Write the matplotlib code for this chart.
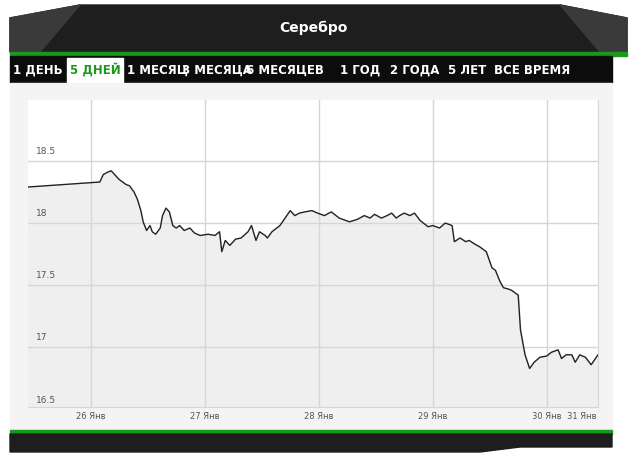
import matplotlib.pyplot as plt
from matplotlib.patches import Rectangle, Polygon

# days since 26 Jan (31 Jan is squeezed in after the weekend gap)
t = [-0.55, 0.08, 0.11, 0.15, 0.18, 0.22, 0.25, 0.31, 0.34, 0.38, 0.41, 0.44, 0.46, 0.49, 0.52, 0.54,
     0.57, 0.61, 0.63, 0.66, 0.69, 0.72, 0.75, 0.78, 0.82, 0.87, 0.91, 0.96, 1.03, 1.09, 1.13, 1.15,
     1.18, 1.22, 1.27, 1.32, 1.38, 1.41, 1.45, 1.48, 1.53, 1.55, 1.59, 1.66, 1.75, 1.79, 1.83, 1.88,
     1.94, 1.99, 2.05, 2.11, 2.18, 2.27, 2.34, 2.40, 2.45, 2.49, 2.55, 2.60, 2.64, 2.68, 2.71, 2.75,
     2.80, 2.84, 2.89, 2.96, 3.00, 3.06, 3.11, 3.17, 3.19, 3.24, 3.29, 3.32, 3.37, 3.41, 3.47, 3.52,
     3.55, 3.59, 3.62, 3.66, 3.69, 3.75, 3.77, 3.81, 3.85, 3.89, 3.94, 4.00, 4.04, 4.10, 4.13, 4.17,
     4.22, 4.25, 4.29, 4.34, 4.39, 4.45]
price = [18.29, 18.33, 18.39, 18.41, 18.42, 18.38, 18.35, 18.31, 18.30, 18.25, 18.19, 18.10, 18.01, 17.94,
         17.98, 17.93, 17.91, 17.96, 18.06, 18.12, 18.09, 17.98, 17.96, 17.98, 17.94, 17.96, 17.92, 17.90,
         17.91, 17.90, 17.93, 17.77, 17.86, 17.82, 17.87, 17.88, 17.93, 17.98, 17.86, 17.93, 17.90, 17.88,
         17.93, 17.98, 18.10, 18.06, 18.08, 18.09, 18.10, 18.08, 18.06, 18.09, 18.04, 18.01, 18.03, 18.06,
         18.04, 18.07, 18.04, 18.06, 18.08, 18.04, 18.06, 18.08, 18.06, 18.08, 18.02, 17.97, 17.98, 17.96,
         18.00, 17.98, 17.85, 17.88, 17.85, 17.86, 17.83, 17.81, 17.77, 17.64, 17.62, 17.53, 17.48, 17.47,
         17.46, 17.42, 17.14, 16.94, 16.83, 16.88, 16.92, 16.93, 16.96, 16.98, 16.91, 16.94, 16.94, 16.88,
         16.94, 16.92, 16.86, 16.94]
tick_pos = [0, 1, 2, 3, 4, 4.31]
tick_labels = ['26 Янв', '27 Янв', '28 Янв', '29 Янв', '30 Янв', '31 Янв']
ytick_vals = [16.5, 17, 17.5, 18, 18.5]
tabs = ['1 ДЕНЬ', '5 ДНЕЙ', '1 МЕСЯЦ', '3 МЕСЯЦА', '6 МЕСЯЦЕВ', '1 ГОД', '2 ГОДА', '5 ЛЕТ', 'ВСЕ ВРЕМЯ']
tab_x = [38, 95, 157, 217, 285, 360, 415, 467, 532]
narrow = ['Liberation Sans Narrow', 'DejaVu Sans']

fig = plt.figure(figsize=(6.4, 4.59), dpi=100)
bg = fig.add_axes([0, 0, 1, 1])
bg.set_xlim(0, 640)
bg.set_ylim(459, 0)
bg.axis('off')

green = '#1a9a1a'
# header
bg.add_patch(Polygon([(10, 18), (80, 5), (560, 5), (627, 18), (627, 52), (10, 52)], color='#1e1e1e'))
bg.add_patch(Polygon([(10, 18), (80, 5), (40, 52), (10, 52)], color='#3a3a3a'))
bg.add_patch(Polygon([(560, 5), (627, 18), (627, 52), (600, 52)], color='#3a3a3a'))
bg.text(313, 28, 'Серебро', color='white', fontsize=10, fontweight='bold', ha='center', va='center')
bg.add_patch(Rectangle((10, 52), 617, 4, color=green))
bg.add_patch(Rectangle((10, 56), 602, 27, color='#0c0c0c'))
bg.add_patch(Rectangle((67, 58), 56, 25, color='white'))
for lab, x in zip(tabs, tab_x):
    bg.text(x, 70, lab, color=green if lab == '5 ДНЕЙ' else 'white', fontsize=8.5,
            fontweight='bold', ha='center', va='center', family=narrow)
# panel
bg.add_patch(Rectangle((10, 83), 602, 347, color='#f4f4f4'))
bg.add_patch(Rectangle((10, 430), 602, 4, color=green))
bg.add_patch(Polygon([(10, 434), (612, 434), (612, 447), (520, 447), (480, 452), (10, 452)], color='#1e1e1e'))

ax = fig.add_axes([28 / 640, 1 - 407 / 459, 570 / 640, 307 / 459])
ax.set_facecolor('white')
ax.set_xlim(-0.55, 4.45)
ax.set_ylim(16.52, 18.99)
ax.fill_between(t, price, 16.0, color='#efefef', zorder=1)
ax.plot(t, price, color='#222222', lw=1, zorder=3)
for p in tick_pos[:-1]:
    ax.axvline(p, color='#d6d6d6', lw=1, zorder=2)
for v in ytick_vals:
    ax.axhline(v, color='#d6d6d6', lw=1, zorder=2)
    ax.text(-0.48, v + 0.04, f'{v:g}', fontsize=6.5, color='#555555', va='bottom', ha='left')
ax.set_xticks([])
ax.set_yticks([])
for s in ax.spines.values():
    s.set_color('#d6d6d6')
ax.spines['top'].set_visible(False)
ax.spines['left'].set_visible(False)
for p, lab in zip(tick_pos, tick_labels):
    ax.text(p, 16.44, lab, fontsize=6, color='#555555', ha='center', va='center', clip_on=False)

fig.savefig('out.png', dpi=100)
